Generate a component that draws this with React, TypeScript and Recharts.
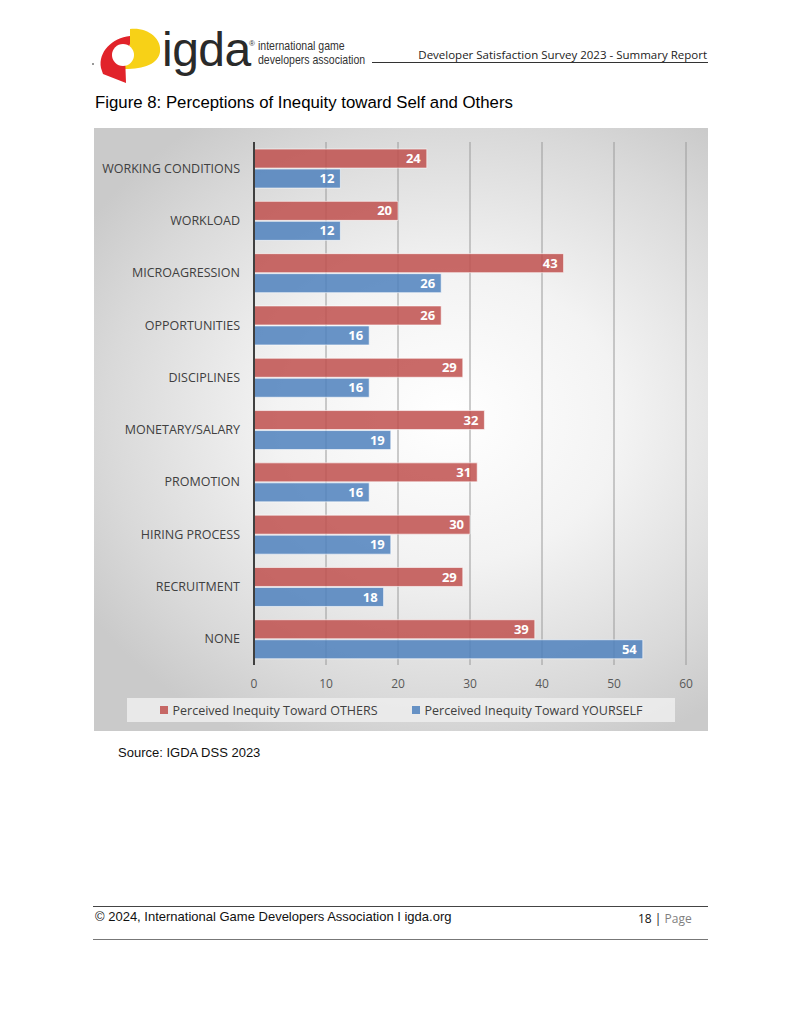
import React from 'react';
import { BarChart, Bar, XAxis, YAxis, CartesianGrid, LabelList, Legend } from 'recharts';

const categories = [
  'WORKING CONDITIONS',
  'WORKLOAD',
  'MICROAGRESSION',
  'OPPORTUNITIES',
  'DISCIPLINES',
  'MONETARY/SALARY',
  'PROMOTION',
  'HIRING PROCESS',
  'RECRUITMENT',
  'NONE',
];
const othersValues = [24, 20, 43, 26, 29, 32, 31, 30, 29, 39];
const yourselfValues = [12, 12, 26, 16, 16, 19, 16, 19, 18, 54];
const xTicks = [0, 10, 20, 30, 40, 50, 60];

const SERIES = {
  others: { name: 'Perceived Inequity Toward OTHERS', color: '#C0504D' },
  yourself: { name: 'Perceived Inequity Toward YOURSELF', color: '#4F81BD' },
};

const chartData = categories.map((name, i) => ({
  name,
  others: othersValues[i],
  yourself: yourselfValues[i],
}));

const CHART_FONT = '"Open Sans", "Noto Sans", sans-serif';
const TEXT_FONT = '"Liberation Sans", Arial, sans-serif';

// single-line category labels (default tick would wrap long names)
const renderCategoryTick = (props: any) => {
  const { x, y, payload } = props;
  return (
    <text
      x={x}
      y={y}
      dy={4.5}
      textAnchor="end"
      fill="#404040"
      fontSize={12.5}
      fontFamily={CHART_FONT}
    >
      {payload.value}
    </text>
  );
};

const renderLegend = () => (
  <div
    style={{
      background: 'rgba(236,236,236,0.9)',
      height: 24,
      display: 'flex',
      alignItems: 'center',
      justifyContent: 'center',
      gap: 34,
      fontFamily: CHART_FONT,
      fontSize: 12.5,
      color: '#404040',
    }}
  >
    {[SERIES.others, SERIES.yourself].map((s) => (
      <span key={s.name} style={{ display: 'flex', alignItems: 'center' }}>
        <span
          style={{
            width: 8,
            height: 8,
            background: s.color,
            opacity: 0.85,
            display: 'inline-block',
            marginRight: 5,
          }}
        />
        {s.name}
      </span>
    ))}
  </div>
);

const Logo = () => (
  <svg width={72} height={62} style={{ position: 'absolute', left: 92, top: 24 }}>
    <path d="M 38 5 C 55 3, 70 14, 68 28 C 66 40, 52 45, 33 45 L 33 31 L 38 20 Z" fill="#F7D117" />
    <path d="M 38 12 C 20 14, 6 28, 9 44 L 11 50 L 34 59 L 33 31 L 38 20 Z" fill="#E1232A" />
    <circle cx={31} cy={31} r={11} fill="#ffffff" />
    <line x1={0} y1={40} x2={2} y2={40} stroke="#333" strokeWidth={1} />
  </svg>
);

export default function App() {
  return (
    <div
      style={{
        position: 'absolute',
        left: 0,
        top: 0,
        width: 800,
        height: 1035,
        background: '#fff',
        fontFamily: TEXT_FONT,
        overflow: 'hidden',
      }}
    >
      {/* header */}
      <Logo />
      <div
        style={{
          position: 'absolute',
          left: 162,
          top: 22,
          fontSize: 48,
          color: '#2a2a2a',
          letterSpacing: -0.5,
        }}
      >
        igda
      </div>
      <div style={{ position: 'absolute', left: 249, top: 39, fontSize: 8, color: '#333' }}>®</div>
      <div
        style={{
          position: 'absolute',
          left: 258,
          top: 39,
          fontSize: 13.5,
          lineHeight: '14px',
          color: '#333',
          transform: 'scaleX(0.78)',
          transformOrigin: 'left top',
          whiteSpace: 'nowrap',
        }}
      >
        international game
        <br />
        developers association
      </div>
      <div style={{ position: 'absolute', left: 372, top: 62, width: 336, height: 1, background: '#333' }} />
      <div
        style={{
          position: 'absolute',
          right: 93,
          top: 47,
          fontSize: 11.5,
          color: '#222',
          fontFamily: CHART_FONT,
        }}
      >
        Developer Satisfaction Survey 2023 - Summary Report
      </div>

      {/* figure title */}
      <div style={{ position: 'absolute', left: 95, top: 93, fontSize: 16.8, color: '#000' }}>
        Figure 8: Perceptions of Inequity toward Self and Others
      </div>

      {/* chart panel */}
      <div
        style={{
          position: 'absolute',
          left: 94,
          top: 128,
          width: 614,
          height: 603,
          background:
            'radial-gradient(ellipse 70% 60% at 58% 48%, #ffffff 0%, #f3f3f3 40%, #d9d9d9 80%, #cacaca 100%)',
        }}
      >
        <BarChart
          width={614}
          height={603}
          data={chartData}
          layout="vertical"
          margin={{ top: 14, right: 22, bottom: 9, left: 0 }}
          barCategoryGap="13.5%"
          barGap={1}
        >
          <CartesianGrid horizontal={false} stroke="#9a9a9a" strokeWidth={1} />
          <XAxis
            type="number"
            domain={[0, 60]}
            ticks={xTicks}
            axisLine={false}
            tickLine={false}
            tickSize={0}
            tickMargin={14}
            height={33}
            tick={{ fontSize: 12, fill: '#595959', fontFamily: CHART_FONT }}
          />
          <YAxis
            type="category"
            dataKey="name"
            width={160}
            axisLine={{ stroke: '#404040', strokeWidth: 2 }}
            tickLine={false}
            tickSize={0}
            tickMargin={14}
            interval={0}
            tick={renderCategoryTick}
          />
          <Legend
            verticalAlign="bottom"
            height={24}
            content={renderLegend}
            wrapperStyle={{ left: 33, width: 548 }}
          />
          <Bar
            dataKey="others"
            name={SERIES.others.name}
            fill={SERIES.others.color}
            fillOpacity={0.85}
            stroke="#ffffff"
            strokeOpacity={0.6}
            isAnimationActive={false}
          >
            <LabelList
              dataKey="others"
              position="insideRight"
              offset={6}
              fill="#ffffff"
              style={{ fontSize: 13, fontWeight: 700, fontFamily: CHART_FONT }}
            />
          </Bar>
          <Bar
            dataKey="yourself"
            name={SERIES.yourself.name}
            fill={SERIES.yourself.color}
            fillOpacity={0.85}
            stroke="#ffffff"
            strokeOpacity={0.6}
            isAnimationActive={false}
          >
            <LabelList
              dataKey="yourself"
              position="insideRight"
              offset={6}
              fill="#ffffff"
              style={{ fontSize: 13, fontWeight: 700, fontFamily: CHART_FONT }}
            />
          </Bar>
        </BarChart>
      </div>

      {/* source */}
      <div style={{ position: 'absolute', left: 118, top: 745, fontSize: 13, color: '#111' }}>
        Source: IGDA DSS 2023
      </div>

      {/* footer */}
      <div style={{ position: 'absolute', left: 93, top: 906, width: 615, height: 1, background: '#444' }} />
      <div style={{ position: 'absolute', left: 95, top: 909, fontSize: 13, color: '#111' }}>
        © 2024, International Game Developers Association I igda.org
      </div>
      <div style={{ position: 'absolute', left: 638, top: 910, fontSize: 12, fontFamily: CHART_FONT }}>
        <span style={{ color: '#111' }}>18 | </span>
        <span style={{ color: '#7f7f7f' }}>Page</span>
      </div>
      <div style={{ position: 'absolute', left: 93, top: 939, width: 615, height: 1, background: '#777' }} />
    </div>
  );
}
